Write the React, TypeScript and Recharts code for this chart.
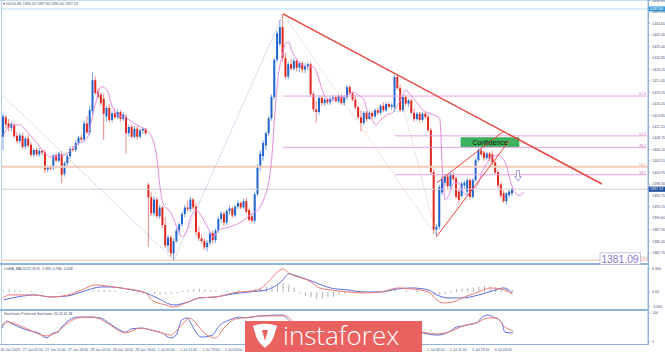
import React from 'react';
import { ComposedChart, Bar, Line, XAxis, YAxis, ReferenceLine, ReferenceArea, ReferenceDot } from 'recharts';

// ---------- data ----------
const SLOTS = 231;
const P_MAX = 1439.93;
const P_MIN = 1380.66;

// [open, high, low, close]
const candlesJun26to28: number[][] = [
  [1409.0,1414.2,1406.0,1413.6],[1413.4,1414.0,1411.0,1411.8],[1412.0,1413.0,1410.3,1411.0],[1411.0,1412.4,1410.2,1411.9],
  [1411.7,1412.3,1408.6,1409.1],[1409.2,1410.0,1407.5,1408.0],[1408.0,1409.8,1407.6,1409.3],[1409.2,1409.8,1406.2,1406.7],
  [1406.8,1409.0,1406.2,1408.6],[1408.6,1409.4,1406.5,1407.0],[1407.2,1407.8,1404.4,1404.9],[1404.9,1406.4,1404.3,1406.0],
  [1406.0,1406.5,1404.6,1405.0],[1405.0,1406.4,1404.5,1405.8],[1405.8,1406.2,1404.8,1405.4],[1405.5,1406.0,1400.8,1401.6],
  [1401.6,1402.6,1401.0,1402.1],[1402.1,1402.5,1401.4,1401.8],[1401.9,1405.0,1401.5,1404.8],[1404.8,1405.3,1403.2,1403.6],
  [1403.6,1405.6,1403.2,1405.2],[1405.0,1405.8,1398.5,1400.4],[1400.6,1403.5,1400.0,1403.0],[1403.0,1405.2,1402.5,1404.6],
  [1404.6,1406.8,1404.0,1406.2],[1406.2,1407.0,1405.6,1406.0],[1406.0,1408.2,1405.6,1407.6],[1407.6,1409.2,1407.0,1408.8],
  [1408.8,1409.4,1408.0,1408.4],[1408.4,1412.6,1408.0,1412.0],[1412.0,1413.6,1409.6,1410.0],[1410.0,1416.0,1409.4,1415.0],
  [1414.8,1423.6,1414.0,1421.8],[1421.8,1422.6,1418.4,1418.9],[1419.2,1420.0,1417.6,1418.0],[1418.5,1419.0,1416.0,1416.6],
  [1417.6,1418.6,1408.3,1414.2],[1413.6,1416.0,1412.4,1415.5],[1415.5,1416.4,1412.2,1412.8],[1412.8,1414.8,1412.2,1414.3],
  [1414.3,1415.4,1413.0,1413.4],[1413.4,1415.2,1413.0,1414.6],[1414.6,1415.0,1412.4,1413.0],[1413.0,1414.6,1412.5,1414.0],
  [1413.5,1414.2,1405.2,1409.8],[1409.8,1411.6,1409.0,1411.2],[1411.2,1411.8,1408.6,1409.0],[1409.0,1411.4,1408.6,1410.8],
  [1410.8,1411.4,1408.4,1409.0],[1409.0,1410.8,1408.6,1410.4],[1410.4,1411.2,1409.6,1410.8],[1410.8,1411.0,1409.4,1409.8],
];
const candlesJul1to2: number[][] = [
  [1398.1,1398.6,1384.1,1395.3],[1395.3,1396.4,1391.0,1391.7],[1391.7,1395.6,1391.0,1394.8],[1394.8,1395.3,1390.6,1391.0],
  [1391.0,1393.6,1390.4,1393.0],[1393.0,1393.4,1388.4,1389.0],[1389.0,1390.8,1383.8,1384.4],[1384.4,1386.8,1383.0,1386.2],
  [1386.2,1386.6,1381.8,1382.6],[1382.6,1386.0,1381.09,1385.4],[1385.4,1388.4,1385.0,1387.8],[1387.8,1389.6,1386.8,1389.2],
  [1389.2,1392.0,1388.6,1391.5],[1391.5,1393.6,1390.8,1393.0],[1393.0,1394.4,1392.0,1392.6],[1392.6,1395.4,1392.0,1394.8],
  [1394.8,1395.2,1392.4,1393.0],[1393.2,1394.0,1386.6,1387.4],[1387.4,1388.6,1385.4,1386.0],[1386.0,1387.0,1384.8,1385.4],
  [1385.4,1386.0,1383.4,1384.0],[1384.0,1385.6,1383.0,1385.0],[1385.0,1387.6,1384.4,1387.2],[1387.2,1387.8,1384.8,1385.6],
  [1385.6,1388.2,1385.0,1387.8],[1387.8,1391.0,1387.2,1390.4],[1390.4,1392.2,1389.6,1391.6],[1391.6,1392.0,1388.8,1389.6],
  [1389.6,1392.6,1389.0,1392.2],[1392.2,1393.4,1391.4,1392.8],[1392.8,1393.2,1390.6,1391.2],[1391.2,1393.6,1390.8,1393.2],
  [1393.2,1394.6,1392.6,1394.0],[1394.0,1394.4,1392.6,1393.0],[1393.0,1395.0,1392.6,1394.4],[1394.4,1395.2,1391.6,1392.0],
  [1392.4,1393.0,1389.8,1390.2],[1391.0,1391.6,1389.6,1390.0],[1390.0,1396.6,1389.4,1396.0],[1396.0,1402.8,1395.4,1402.2],
  [1402.2,1406.0,1401.2,1405.2],[1404.6,1408.2,1403.6,1407.6],[1407.0,1410.2,1406.0,1409.8],[1409.8,1413.6,1409.2,1413.2],
  [1413.2,1418.6,1412.6,1418.0],[1418.0,1426.8,1417.4,1426.4],[1426.4,1433.0,1425.8,1432.4],[1430.0,1435.4,1429.4,1433.8],
];
const candlesJul3to5: number[][] = [
  [1433.8,1436.8,1426.0,1426.8],[1426.8,1428.0,1422.0,1422.6],[1422.6,1426.0,1422.0,1425.4],[1425.4,1426.6,1424.0,1424.4],
  [1424.4,1426.8,1424.0,1426.2],[1426.2,1426.6,1423.8,1424.6],[1424.6,1426.0,1423.6,1425.6],[1425.6,1426.0,1423.4,1424.2],
  [1424.2,1425.6,1423.4,1425.0],[1425.0,1425.8,1424.0,1425.4],[1425.4,1425.8,1418.0,1418.6],[1418.6,1419.2,1414.6,1415.2],
  [1415.2,1417.0,1412.2,1414.6],[1414.6,1418.4,1414.0,1417.8],[1417.8,1418.2,1416.0,1416.6],[1416.6,1417.8,1416.0,1417.4],
  [1417.4,1417.8,1416.4,1416.8],[1416.8,1418.0,1416.2,1417.6],[1417.6,1418.4,1417.0,1417.9],[1417.9,1418.3,1416.8,1417.0],
  [1417.0,1418.6,1416.6,1418.2],[1418.2,1418.6,1416.2,1416.6],[1416.6,1418.4,1416.0,1417.9],[1417.9,1420.6,1417.4,1420.2],
  [1420.2,1420.6,1418.4,1418.8],[1418.8,1419.2,1417.0,1417.4],[1417.4,1418.4,1415.2,1415.7],[1415.7,1416.0,1413.0,1413.4],
  [1413.4,1415.0,1410.2,1412.1],[1412.1,1414.8,1411.6,1414.4],[1414.4,1414.8,1412.4,1413.0],[1413.0,1414.8,1412.8,1414.4],
  [1414.4,1414.8,1413.2,1413.6],[1413.6,1415.4,1413.2,1415.0],[1415.0,1415.6,1413.8,1414.4],[1414.4,1416.4,1414.0,1416.0],
  [1416.0,1416.8,1414.6,1415.0],[1415.0,1416.8,1414.6,1416.4],[1416.4,1416.8,1415.4,1415.8],[1415.8,1416.6,1415.0,1416.2],
  [1415.6,1423.0,1414.6,1422.5],[1422.5,1422.8,1419.6,1420.0],[1420.0,1420.8,1414.6,1415.0],[1415.0,1418.4,1414.6,1418.0],
  [1418.0,1418.4,1416.0,1416.5],[1416.5,1417.6,1415.8,1417.2],[1417.2,1417.6,1414.0,1414.4],[1414.4,1415.4,1412.4,1413.0],
  [1413.0,1414.6,1412.6,1414.2],[1414.2,1414.6,1412.2,1412.8],[1412.8,1414.6,1412.4,1414.2],[1414.2,1414.6,1413.0,1413.5],
  [1413.5,1414.2,1410.0,1410.5],[1410.5,1411.0,1400.4,1401.0],[1401.0,1401.6,1387.0,1388.0],
];
const candlesJul5to8: number[][] = [
  [1388.0,1389.2,1386.3,1388.6],[1388.6,1398.2,1388.0,1397.6],[1396.4,1400.2,1395.8,1399.4],[1398.6,1400.6,1397.6,1400.0],
  [1400.0,1400.6,1397.2,1397.8],[1397.8,1401.0,1397.2,1400.4],[1400.4,1401.0,1399.0,1399.4],[1399.6,1400.0,1395.0,1395.4],
  [1396.6,1397.4,1393.9,1394.7],[1395.6,1398.8,1395.2,1398.4],[1398.0,1399.0,1397.2,1398.6],[1396.6,1399.6,1395.8,1399.2],
  [1399.2,1399.6,1394.8,1395.4],[1395.4,1399.6,1395.0,1399.2],[1399.2,1404.2,1398.8,1403.7],[1403.7,1406.4,1403.2,1405.9],
  [1405.9,1406.2,1404.6,1405.0],[1405.4,1405.8,1403.6,1404.2],[1404.2,1405.6,1403.8,1405.2],[1405.2,1405.6,1403.4,1404.0],
  [1405.0,1405.8,1402.6,1403.2],[1403.2,1403.6,1400.4,1400.9],[1401.0,1401.4,1397.4,1398.0],[1398.2,1398.8,1395.1,1395.7],
  [1396.2,1396.8,1394.0,1394.4],[1394.4,1396.4,1393.6,1396.2],[1395.8,1397.0,1395.3,1396.6],[1396.2,1397.6,1395.6,1397.13],
];

// shifted moving average, [candle index, price]
const maPoints: number[][] = [
  [0,1409.4],[2,1411.2],[6,1411.7],[8,1410.5],[11,1408.3],[14,1406.0],[17,1404.4],[19,1404.4],[23,1405.3],[26,1407.1],
  [30,1408.7],[31,1411.2],[33,1416.6],[35,1420.3],[37,1419.6],[39,1415.7],[42,1413.5],[44,1413.2],[46,1412.3],[49,1411.2],
  [51,1410.5],[53,1409.0],[55,1403.7],[56,1397.6],[57,1394.0],[60,1391.7],[62,1388.6],[64,1386.3],[66,1388.6],[67,1390.8],
  [69,1392.4],[71,1390.8],[73,1388.6],[75,1386.3],[77,1387.9],[81,1388.6],[85,1389.7],[89,1391.7],[91,1392.4],[93,1394.7],
  [95,1399.2],[96,1404.4],[97,1413.5],[98,1421.2],[100,1428.0],[101,1430.2],[102,1430.4],[103,1428.6],[105,1426.4],[107,1425.2],
  [109,1424.8],[111,1424.8],[112,1423.6],[114,1419.6],[115,1418.0],[117,1417.3],[119,1417.3],[120,1417.8],[123,1418.4],[125,1419.1],
  [127,1418.4],[129,1417.3],[130,1415.0],[132,1412.8],[133,1411.6],[135,1412.8],[137,1413.9],[139,1414.4],[142,1417.3],[144,1419.6],
  [145,1418.9],[148,1416.6],[150,1415.0],[152,1414.4],[154,1413.9],[156,1413.2],[157,1401.5],[158,1394.7],[160,1396.9],[161,1398.5],
  [163,1398.5],[164,1396.9],[166,1395.8],[167,1396.5],[168,1397.4],[169,1397.6],[170,1398.8],[171,1400.8],[173,1403.1],[174,1404.2],
  [175,1404.4],[177,1404.9],[178,1404.4],[179,1403.7],[180,1402.2],[181,1399.7],[182,1397.6],[184,1395.8],[185,1395.8],[186,1396.5],
];

const macdPoints: number[][] = [
  [0,-2.16],[5,-1.35],[11,-0.81],[17,-1.35],[23,-1.08],[28,0],[35,1.35],[38,1.35],[46,0.54],[51,-0.27],[55,-1.62],[61,-3.51],
  [66,-2.7],[70,-1.62],[76,-1.35],[82,-0.54],[88,0],[94,0.54],[100,3.24],[102,4.86],[106,4.05],[112,2.43],[117,1.08],[123,0.54],
  [129,0],[135,0],[141,0.81],[146,1.08],[152,0.54],[155,-0.81],[159,-1.62],[164,-1.62],[170,-0.81],[176,0.54],[179,1.08],[182,-0.27],
];
const signalPoints: number[][] = [
  [0,-1.62],[2,-0.81],[11,-0.81],[17,-1.35],[23,-0.81],[28,0.54],[33,1.89],[37,1.62],[42,1.08],[51,-0.27],[53,-2.16],[58,-3.51],
  [61,-4.05],[66,-2.7],[70,-1.62],[76,-1.35],[82,-0.27],[91,0.54],[94,2.16],[100,6.21],[102,5.13],[110,2.7],[113,1.08],[117,0.54],
  [123,0],[129,-0.27],[135,0],[141,1.08],[146,0.81],[152,0],[155,-2.16],[157,-2.97],[161,-2.7],[164,-1.62],[170,0],[174,1.08],
  [178,0.81],[182,-0.54],
];
const osmaBars: number[][] = [
  [0,0.6],[2,0.7],[4,0.6],[6,0.5],[10,0.3],[14,0.2],[20,-0.2],[26,0.2],[32,0.5],[34,0.6],[36,0.5],[38,0.4],[40,0.3],
  [44,-0.3],[48,-0.4],[50,-0.5],[54,-0.6],[56,-0.8],[58,-0.6],[60,-0.5],[62,-0.3],[64,0.3],[66,0.6],[68,0.8],[70,0.9],
  [72,0.7],[74,0.5],[76,0.3],[80,0.4],[84,0.5],[88,0.6],[90,0.8],[92,1.1],[94,1.5],[96,1.9],[98,2.2],[100,2.4],[102,2.0],
  [104,1.2],[106,-0.4],[108,-1.0],[110,-1.5],[112,-1.9],[114,-1.8],[116,-1.5],[118,-1.2],[120,-0.8],[122,-0.5],[124,-0.3],
  [126,-0.2],[128,-0.2],[132,0.2],[136,0.3],[140,0.5],[144,0.6],[148,0.4],[152,-0.3],[154,-0.8],[156,-0.9],[158,-0.6],
  [160,0.4],[162,0.7],[164,0.9],[166,1.1],[168,1.3],[170,1.5],[172,1.6],[174,1.5],[176,1.3],[178,1.1],[180,0.8],[182,0.6],
];

const stochK: number[][] = [
  [0,48],[1,66],[2,72],[3,66],[6,52],[9,41],[13,31],[16,14],[18,31],[20,34],[21,48],[24,76],[27,86],[31,86],[35,83],
  [38,66],[42,41],[44,34],[46,45],[50,48],[53,41],[57,31],[60,14],[62,24],[64,76],[66,83],[67,69],[69,34],[71,17],[75,24],
  [77,52],[81,76],[85,86],[86,83],[92,90],[100,93],[102,76],[106,48],[113,21],[120,31],[128,41],[135,59],[142,69],[147,41],
  [150,31],[155,24],[159,34],[162,52],[164,55],[167,62],[169,66],[171,86],[173,93],[175,86],[178,66],[179,34],[182,31],
];
const stochD: number[][] = [
  [0,59],[2,69],[5,62],[9,45],[16,21],[19,31],[24,69],[27,83],[32,86],[35,79],[38,62],[44,31],[49,48],[56,34],[60,24],
  [63,48],[67,83],[68,76],[72,31],[76,14],[79,48],[83,79],[86,83],[94,90],[101,90],[104,69],[113,28],[122,34],[131,52],
  [142,62],[150,34],[155,28],[160,38],[164,55],[169,66],[173,83],[176,83],[179,52],[182,38],
];

const priceTicks = [1382.70,1385.30,1387.90,1390.60,1393.15,1395.75,1398.30,1400.95,1403.55,1406.10,1408.70,1411.20,
  1413.85,1416.45,1419.05,1421.65,1424.25,1426.85,1429.40,1432.00,1434.65,1437.25,1439.85];
// labels every 8 bars; the ones covered by the watermark are left empty
const timeLabels = ['26 Jun 2019','27 Jun 02:00','27 Jun 10:00','27 Jun 18:00','28 Jun 02:00','28 Jun 10:00','28 Jun 18:00',
  '1 Jul 03:00','1 Jul 11:00','1 Jul 19:00','2 Jul 03:00','','','','','','','','','5 Jul 03:00','5 Jul 11:00','5 Jul 19:00','8 Jul 03:00'];

// ---------- tables ----------
const candles = [...candlesJun26to28, ...candlesJul1to2, ...candlesJul3to5, ...candlesJul5to8];
const mainRows: any[] = Array.from({ length: SLOTS }, (_, i) => {
  const c = candles[i];
  return c ? { i, o: c[0], h: c[1], l: c[2], c: c[3], ma: null } : { i, ma: null };
});
maPoints.forEach(([i, v]) => { mainRows[i].ma = v; });
const macdRows: any[] = Array.from({ length: SLOTS }, (_, i) => ({ i, macd: null, sig: null, hist: null }));
macdPoints.forEach(([i, v]) => { macdRows[i].macd = v; });
signalPoints.forEach(([i, v]) => { macdRows[i].sig = v; });
osmaBars.forEach(([i, v]) => { macdRows[i].hist = v; });
const stochRows: any[] = Array.from({ length: SLOTS }, (_, i) => ({ i, k: null, d: null }));
stochK.forEach(([i, v]) => { stochRows[i].k = v; });
stochD.forEach(([i, v]) => { stochRows[i].d = v; });

// ---------- styles ----------
const BLUE = '#2166cc', RED = '#e0281e', BLUE_W = '#5c8fe0', RED_W = '#e86a6a';
const FRAME = '#8fb3d9', AXIS_TXT = '#4a5878';
const PINK = '#e7a0e4', TAN = '#f3cbb8', MA = '#e58be0';
const FONT = 'Liberation Sans, Arial, sans-serif';

function Candle(props: any) {
  const { x, y, width, height, payload } = props;
  if (!payload || payload.o == null) return null;
  const { o, h, l, c } = payload;
  const range = h - l || 1;
  const hgt = Math.abs(height);
  const top0 = height < 0 ? y + height : y;
  const toY = (v: number) => top0 + ((h - v) / range) * hgt;
  const up = c >= o;
  const cx = x + width / 2;
  const bTop = toY(Math.max(o, c));
  const bBot = toY(Math.min(o, c));
  return (
    <g>
      <line x1={cx} x2={cx} y1={top0} y2={top0 + hgt} stroke={up ? BLUE_W : RED_W} strokeWidth={0.8} />
      <rect x={cx - 1} y={bTop} width={2} height={Math.max(0.8, bBot - bTop)} fill={up ? BLUE : RED} />
    </g>
  );
}

function FibTag(props: any) {
  const { viewBox, text, color } = props;
  if (!viewBox) return null;
  return <text x={646} y={viewBox.y - 0.8} textAnchor="end" fontSize={3.6} fill={color} fontFamily={FONT}>{text}</text>;
}

function PriceBadge(props: any) {
  const { viewBox, text, bg } = props;
  if (!viewBox) return null;
  const y = viewBox.y;
  return (
    <g>
      <rect x={648.5} y={y - 2.6} width={16.5} height={5.2} fill={bg} />
      <text x={650} y={y + 1.3} fontSize={3.6} fill="#ffffff" fontFamily={FONT}>{text}</text>
    </g>
  );
}

function LowBox(props: any) {
  const { viewBox } = props;
  if (!viewBox) return null;
  const y = viewBox.y;
  return (
    <g>
      <rect x={600} y={y - 7.3} width={40.5} height={11.8} fill="#ffffff" stroke="#b9b2dc" strokeWidth={0.8} />
      <text x={620} y={y + 2.5} textAnchor="middle" fontSize={10.3} fill="#8b76d6" fontFamily={FONT}>1381.09</text>
      <text x={641} y={y - 0.6} fontSize={2.8} fill="#e0a080" fontFamily={FONT}>100.0</text>
    </g>
  );
}

function DownArrow(props: any) {
  const { cx, cy } = props;
  if (cx == null) return null;
  const d = `M${cx - 1.6},${cy - 5.5} L${cx + 1.6},${cy - 5.5} L${cx + 1.6},${cy + 0.5} L${cx + 3.4},${cy + 0.5} L${cx},${cy + 5} L${cx - 3.4},${cy + 0.5} L${cx - 1.6},${cy + 0.5} Z`;
  return <path d={d} fill="#ffffff" stroke="#9d8ad8" strokeWidth={0.9} />;
}

function TimeTick(props: any) {
  const { x, y, payload } = props;
  if (payload.value % 8 !== 0) return null;
  const txt = timeLabels[payload.value / 8];
  if (!txt) return null;
  return <text x={x - 1.6} y={y + 4.6} fontSize={3.5} fill={AXIS_TXT} fontFamily={FONT}>{txt}</text>;
}

const yTick = { fontSize: 3.6, fill: AXIS_TXT, fontFamily: FONT };

export default function App() {
  const abs = (l: number, t: number, w: number, h: number, bg: string) => (
    <div style={{ position: 'absolute', left: l, top: t, width: w, height: h, background: bg }} />
  );
  return (
    <div style={{ position: 'absolute', left: 0, top: 0, width: 665, height: 352, background: '#ffffff', overflow: 'hidden', fontFamily: FONT }}>
      {abs(0, 0, 665, 1, '#c8def0')}
      {abs(1, 0, 1, 345, '#b7d0ea')}
      {abs(648, 0, 1, 345, FRAME)}
      {abs(0, 263, 649, 2, FRAME)}
      {abs(0, 309, 649, 2, FRAME)}
      {abs(0, 344, 649, 1, FRAME)}

      <div style={{ position: 'absolute', left: 3, top: 1.5, fontSize: 3.6, color: '#44506a', whiteSpace: 'nowrap', lineHeight: '5px' }}>
        ▾ GOLD,H1  1396.20 1397.60 1395.60 1397.13
      </div>

      <div style={{ position: 'absolute', left: 0, top: 0 }}>
        <ComposedChart width={665} height={266} data={mainRows} margin={{ top: 0, right: 0, bottom: 4, left: 2 }}>
          <XAxis dataKey="i" type="category" hide />
          <YAxis orientation="right" type="number" width={17} domain={[P_MIN, P_MAX]} allowDataOverflow ticks={priceTicks}
            interval={0} tick={yTick} tickSize={2} tickLine={{ stroke: FRAME }} axisLine={{ stroke: FRAME }}
            tickFormatter={(v: number) => v.toFixed(2)} />

          <ReferenceLine y={1437.9} stroke="#b5dcf0" strokeWidth={1} ifOverflow="visible" label={<PriceBadge text="1437.90" bg="#3aa0dc" />} />
          <ReferenceLine y={1402.2} stroke={TAN} strokeWidth={2} label={<FibTag text="50.0" color="#d9a58c" />} />
          <ReferenceLine y={1397.13} stroke="#d3cbd6" strokeWidth={1} label={<PriceBadge text="1397.13" bg="#1d4e9e" />} />
          <ReferenceLine y={1381.09} stroke={TAN} strokeWidth={1.2} label={<LowBox />} />
          <ReferenceLine segment={[{ x: 100, y: 1418.2 }, { x: 230, y: 1418.2 }]} stroke={PINK} ifOverflow="visible" label={<FibTag text="61.8" color="#c77fc7" />} />
          <ReferenceLine segment={[{ x: 100, y: 1406.6 }, { x: 230, y: 1406.6 }]} stroke={PINK} ifOverflow="visible" label={<FibTag text="38.2" color="#c77fc7" />} />
          <ReferenceLine segment={[{ x: 140, y: 1409.2 }, { x: 230, y: 1409.2 }]} stroke={PINK} ifOverflow="visible" label={<FibTag text="61.8" color="#c77fc7" />} />
          <ReferenceLine segment={[{ x: 140, y: 1400.4 }, { x: 230, y: 1400.4 }]} stroke={PINK} ifOverflow="visible" label={<FibTag text="38.2" color="#c77fc7" />} />

          <ReferenceArea x1={164} x2={184} y1={1406.7} y2={1408.9} fill="#3db25c" fillOpacity={1} stroke="none" ifOverflow="visible"
            label={{ value: 'Confidence', position: 'center', fontSize: 7, fill: '#102010', fontFamily: FONT }} />

          <Bar dataKey={(d: any) => (d.o == null ? null : [d.l, d.h])} barSize={2} shape={<Candle />} isAnimationActive={false} />
          <Line dataKey="ma" type="monotone" connectNulls dot={false} activeDot={false} stroke={MA} strokeWidth={1} isAnimationActive={false} />

          <ReferenceLine segment={[{ x: 0, y: 1418.2 }, { x: 61, y: 1381.09 }]} stroke="#8f8fd0" strokeDasharray="1 1.5" strokeWidth={0.8} ifOverflow="visible" />
          <ReferenceLine segment={[{ x: 61, y: 1381.09 }, { x: 100, y: 1436.8 }]} stroke="#8f8fd0" strokeDasharray="1 1.5" strokeWidth={0.8} ifOverflow="visible" />
          <ReferenceLine segment={[{ x: 100, y: 1436.8 }, { x: 155, y: 1386.3 }]} stroke="#e0a890" strokeDasharray="1 1.5" strokeWidth={0.8} ifOverflow="visible" />
          <ReferenceLine segment={[{ x: 140, y: 1423.0 }, { x: 155, y: 1386.3 }]} stroke="#e0a890" strokeDasharray="1 1.5" strokeWidth={0.8} ifOverflow="visible" />

          <ReferenceLine segment={[{ x: 100, y: 1436.8 }, { x: 214, y: 1398.3 }]} stroke="#e5453d" strokeWidth={1.5} ifOverflow="visible" />
          <ReferenceLine segment={[{ x: 155, y: 1398.6 }, { x: 179, y: 1410.3 }]} stroke="#e5453d" strokeWidth={1} ifOverflow="visible" />
          <ReferenceLine segment={[{ x: 155, y: 1386.5 }, { x: 181, y: 1408.2 }]} stroke="#e5453d" strokeWidth={1} ifOverflow="visible" />

          <ReferenceDot x={184} y={1400.1} r={0} shape={<DownArrow />} ifOverflow="visible" />
        </ComposedChart>
      </div>

      <div style={{ position: 'absolute', left: 0, top: 264 }}>
        <ComposedChart width={665} height={47} data={macdRows} margin={{ top: 2, right: 0, bottom: 2, left: 2 }}>
          <XAxis dataKey="i" type="category" hide />
          <YAxis orientation="right" type="number" width={17} domain={[-4.6, 7.0]} allowDataOverflow ticks={[-3.9, 0, 6.3]}
            interval={0} tick={yTick} tickSize={2} tickLine={{ stroke: FRAME }} axisLine={{ stroke: FRAME }}
            tickFormatter={(v: number) => (v === 0 ? '0.00' : v.toFixed(3))} />
          <Bar dataKey="hist" barSize={1} fill="#b4b4b4" isAnimationActive={false} />
          <Line dataKey="macd" type="monotone" connectNulls dot={false} activeDot={false} stroke="#5b6fe0" strokeWidth={1} isAnimationActive={false} />
          <Line dataKey="sig" type="monotone" connectNulls dot={false} activeDot={false} stroke="#f07a72" strokeWidth={1} isAnimationActive={false} />
        </ComposedChart>
      </div>
      <div style={{ position: 'absolute', left: 4, top: 266.5, fontSize: 3.5, color: '#44506a', whiteSpace: 'nowrap', lineHeight: '5px' }}>
        OsMA_MACD(12,26,9) -1.384 -0.936 -0.448
      </div>

      <div style={{ position: 'absolute', left: 0, top: 310 }}>
        <ComposedChart width={665} height={42} data={stochRows} margin={{ top: 1, right: 0, bottom: 0, left: 2 }}>
          <XAxis dataKey="i" type="category" height={8} interval={7} tick={<TimeTick />} tickSize={0} tickLine={false} axisLine={false} />
          <YAxis orientation="right" type="number" width={17} domain={[-6.9, 106.9]} allowDataOverflow ticks={[0, 100]}
            interval={0} tick={yTick} tickSize={2} tickLine={{ stroke: FRAME }} axisLine={{ stroke: FRAME }} />
          <Line dataKey="k" type="monotone" connectNulls dot={false} activeDot={false} stroke="#5b6fe0" strokeWidth={1} isAnimationActive={false} />
          <Line dataKey="d" type="monotone" connectNulls dot={false} activeDot={false} stroke="#f07a72" strokeWidth={1} isAnimationActive={false} />
        </ComposedChart>
      </div>
      <div style={{ position: 'absolute', left: 4, top: 312, fontSize: 3.5, color: '#44506a', whiteSpace: 'nowrap', lineHeight: '5px' }}>
        Stochastic Preferred Stochastic 20.24 31.38
      </div>

      <svg width={177} height={36} style={{ position: 'absolute', left: 245, top: 316 }}>
        <rect x={0} y={5} width={177} height={31} fill="#e9625f" />
        <path d="M8,10 C15,7 25,7 32,10 L29,20 C27,26 23,29 20,32 C17,29 13,26 11,20 Z" fill="#ffffff" />
        <path d="M17,14 L23,14 L20,25 Z" fill="#e9625f" />
        <text x={38} y={28.5} fontFamily="Open Sans, sans-serif" fontWeight={300} fontSize={26} fill="#ffffff">instaforex</text>
      </svg>
    </div>
  );
}
